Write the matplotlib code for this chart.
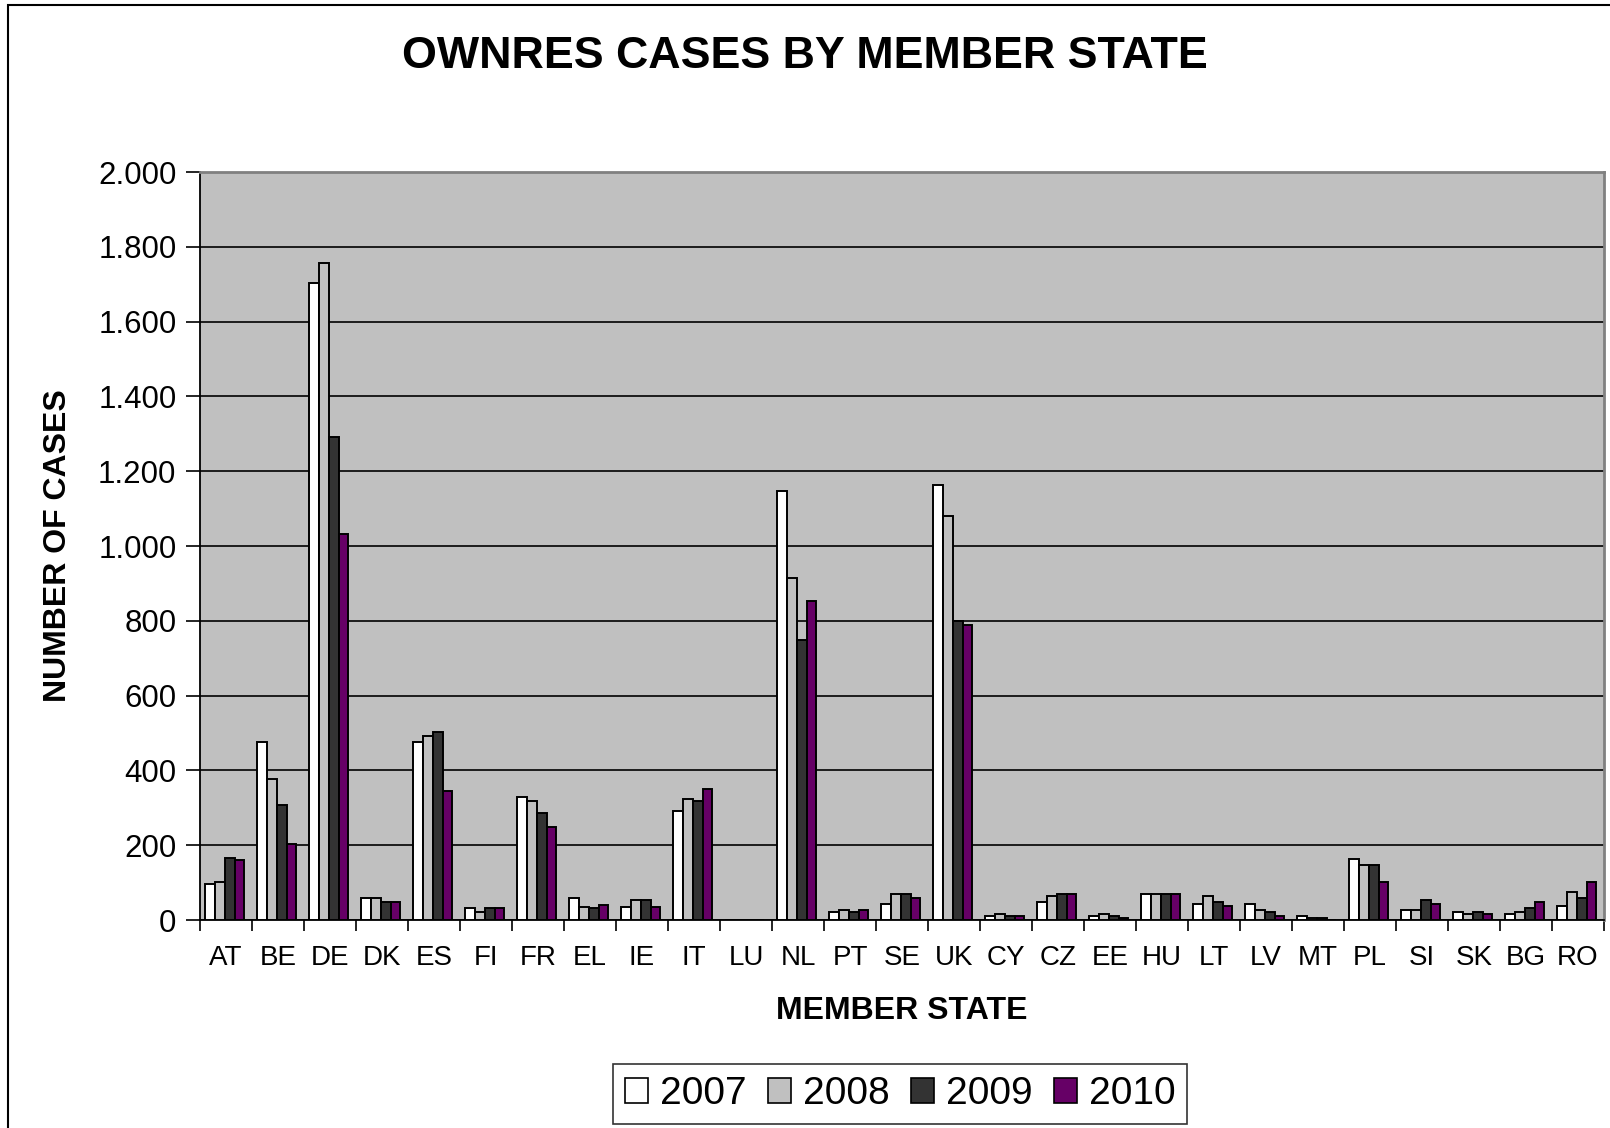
import numpy as np
import matplotlib
matplotlib.use("Agg")
import matplotlib.pyplot as plt
from matplotlib.patches import Patch, Rectangle
from matplotlib.ticker import FuncFormatter, FixedLocator

plt.rcParams['font.family'] = ['Liberation Sans', 'DejaVu Sans']

# ===================== data =====================
states = ["AT", "BE", "DE", "DK", "ES", "FI", "FR", "EL", "IE", "IT", "LU", "NL", "PT", "SE",
          "UK", "CY", "CZ", "EE", "HU", "LT", "LV", "MT", "PL", "SI", "SK", "BG", "RO"]
years = ["2007", "2008", "2009", "2010"]
cases_2007 = [96, 475, 1703, 58, 475, 31, 329, 58, 36, 291, 0, 1146, 21, 43, 1162, 10, 48, 10, 70, 43, 43, 10, 162, 26, 21, 15, 37]
cases_2008 = [102, 378, 1756, 58, 491, 21, 317, 36, 53, 323, 0, 914, 26, 70, 1080, 15, 64, 15, 70, 64, 26, 5, 146, 26, 15, 21, 75]
cases_2009 = [166, 307, 1292, 48, 503, 31, 286, 31, 53, 318, 0, 748, 21, 70, 800, 10, 70, 10, 70, 48, 21, 5, 146, 53, 21, 32, 59]
cases_2010 = [161, 204, 1031, 48, 345, 31, 249, 41, 36, 350, 0, 853, 26, 59, 790, 10, 70, 5, 70, 37, 10, 0, 102, 43, 15, 48, 102]
colors = ["#FFFFFF", "#C0C0C0", "#333333", "#660066"]

series = [cases_2007, cases_2008, cases_2009, cases_2010]

# ===================== figure =====================
W, H = 1610, 1128
fig = plt.figure(figsize=(W / 100, H / 100), dpi=100)
fig.patch.set_facecolor("white")

# outer chart border (cut off at right/bottom like the source)
fig.patches.append(Rectangle((8 / W, -0.1), 1.2, 1 - 5 / H + 0.1, transform=fig.transFigure,
                             fill=False, edgecolor="black", linewidth=1.5, zorder=0))

ax = fig.add_axes([200 / W, 1 - 920 / H, (1604 - 200) / W, (920 - 172) / H])
ax.set_facecolor("#C0C0C0")

x = np.arange(len(states))
bw = 0.1875
for i, (vals, col) in enumerate(zip(series, colors)):
    ax.bar(x + (i - 1.5) * bw - 0.02, vals, width=bw, color=col, edgecolor="black",
           linewidth=1.4, zorder=3)

ax.set_xlim(-0.5, len(states) - 0.5)
ax.set_ylim(0, 2000)
ax.set_yticks(np.arange(0, 2001, 200))
ax.yaxis.set_major_formatter(FuncFormatter(lambda v, p: f"{int(v):,}".replace(",", ".")))
ax.grid(axis="y", color="black", linewidth=1.2, zorder=1)

ax.set_xticks(x)
ax.set_xticklabels(states)
ax.xaxis.set_minor_locator(FixedLocator(np.arange(-0.5, len(states), 1.0)))
ax.tick_params(axis="x", which="major", length=0, pad=18, labelsize=20)
ax.tick_params(axis="x", which="minor", length=8, width=1.2, direction="out")
ax.tick_params(axis="y", length=10, width=1.2, direction="out", pad=7, labelsize=22.5)

for s in ["left", "bottom"]:
    ax.spines[s].set_color("black")
    ax.spines[s].set_linewidth(1.3)
for s in ["top", "right"]:
    ax.spines[s].set_color("#808080")
    ax.spines[s].set_linewidth(2)

fig.text(805 / W, 1 - 56 / H, "OWNRES CASES BY MEMBER STATE", ha="center", va="center",
         fontsize=32.2, fontweight="bold")
fig.text(58 / W, 1 - 546 / H, "NUMBER OF CASES", ha="center", va="center", rotation=90,
         fontsize=23, fontweight="bold")
fig.text(902 / W, 1 - 1011 / H, "MEMBER STATE", ha="center", va="center",
         fontsize=23, fontweight="bold")

handles = [Patch(facecolor=c, edgecolor="black", linewidth=1.2) for c in colors]
leg = fig.legend(handles, years, loc="center", bbox_to_anchor=(900 / W, 1 - 1094 / H),
                 ncol=4, fontsize=28, frameon=True, fancybox=False, edgecolor="black",
                 handlelength=0.6, handleheight=0.6, handletextpad=0.3, columnspacing=0.55,
                 borderpad=0.3, borderaxespad=0)
leg.get_frame().set_linewidth(1.2)

fig.savefig("out.png", dpi=100)
